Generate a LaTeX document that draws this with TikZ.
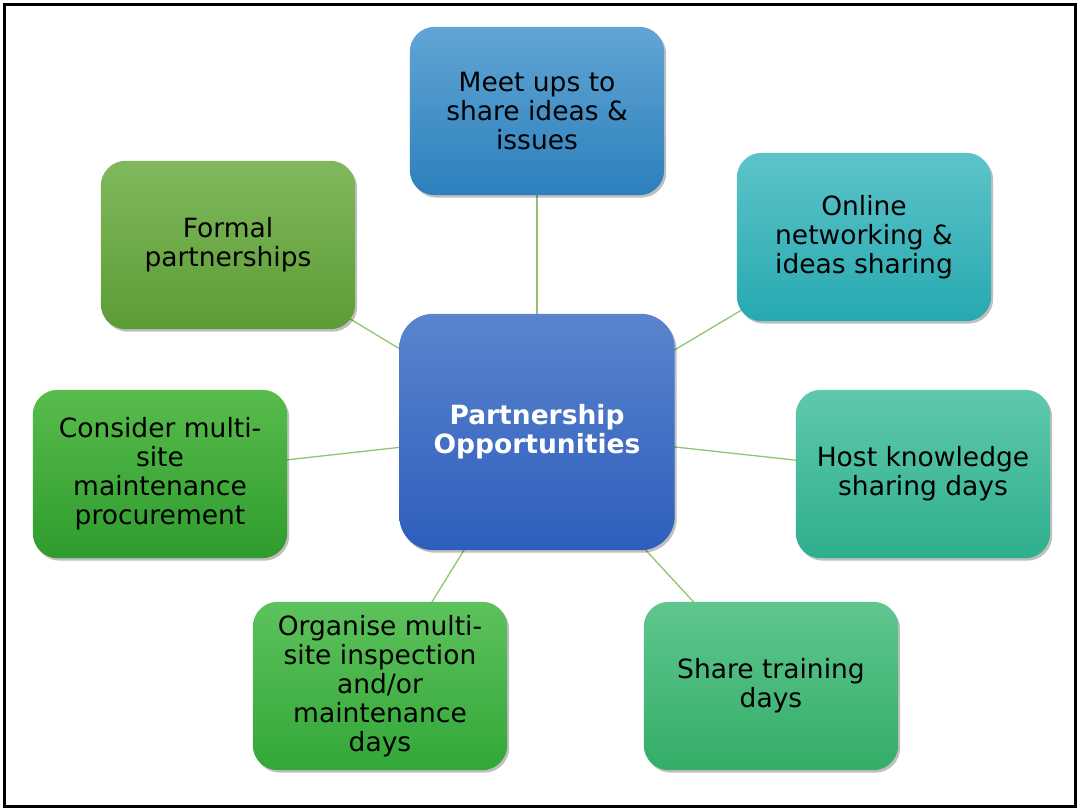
\documentclass[tikz,border=0pt]{standalone}
\usepackage{fontspec}
\setmainfont{DejaVu Sans}
\definecolor{linkgreen}{HTML}{90C471}
\definecolor{hubtop}{HTML}{5B84CD}      \definecolor{hubbot}{HTML}{2E5EBD}
\definecolor{meettop}{HTML}{61A5D5}     \definecolor{meetbot}{HTML}{2C80BC}
\definecolor{onlinetop}{HTML}{5CC4C9}   \definecolor{onlinebot}{HTML}{27A9B0}
\definecolor{hosttop}{HTML}{60C8AC}     \definecolor{hostbot}{HTML}{2DAF8E}
\definecolor{traintop}{HTML}{5FC68F}    \definecolor{trainbot}{HTML}{33AD68}
\definecolor{organisetop}{HTML}{5DC25C} \definecolor{organisebot}{HTML}{33A738}
\definecolor{considertop}{HTML}{58BC4C} \definecolor{considerbot}{HTML}{2E9C2D}
\definecolor{formaltop}{HTML}{80B95C}   \definecolor{formalbot}{HTML}{5C9C35}
\pgfdeclarelayer{links}
\pgfdeclarelayer{boxes}
\pgfsetlayers{links,boxes,main}

\begin{document}
\begin{tikzpicture}[x=1pt, y=-1pt,
    every node/.style={minimum width=254pt, minimum height=168pt,
      align=center, inner sep=0pt, font=\fontsize{26.5}{29}\selectfont},
    shade box/.style={top color=#1top, bottom color=#1bot},
    link/.style={draw=linkgreen, line width=1.3pt}]
        \useasboundingbox (0,0) rectangle (1079,810);
        \draw[line width=3pt] (4.5,4.5) rectangle (1075,806);

        % Hub
        \node (hub) [minimum width=275pt, minimum height=236pt,
          text=white, font=\fontsize{26.5}{29}\selectfont\bfseries]
          at (537,432) {Partnership\\Opportunities};

        % Surrounding ideas
        \node (meet) at (537,111) {Meet ups to\\share ideas \&\\issues};
        \node (online) at (864,237) {Online\\networking \&\\ideas sharing};
        \node (host) at (923,474) {Host knowledge\\sharing days};
        \node (train) at (771,686) {Share training\\days};
        \node (organise) at (380,686) {Organise multi-\\site inspection\\and/or\\maintenance\\days};
        \node (consider) at (160,474) {Consider multi-\\site\\maintenance\\procurement};
        \node (formal) at (228,245) {Formal\\partnerships};

        % Rounded shaded boxes with a soft shadow, under the texts
        \begin{pgfonlayer}{boxes}
          \foreach \n/\r in {hub/34, meet/25, online/25, host/25, train/25, organise/25, consider/25, formal/25} {
            \fill[black, opacity=0.25, rounded corners=\r pt, transform canvas={xshift=2pt, yshift=-2.5pt}]
              (\n.west) -- (\n.north west) -- (\n.north east) -- (\n.south east) -- (\n.south west) -- cycle;
            \shade[shade box=\n, rounded corners=\r pt]
              (\n.west) -- (\n.north west) -- (\n.north east) -- (\n.south east) -- (\n.south west) -- cycle;
          }
        \end{pgfonlayer}

        % Links from the hub, behind the boxes
        \begin{pgfonlayer}{links}
          \foreach \n in {meet, online, host, train, organise, consider, formal}
            \draw[link] (hub.center) -- (\n.center);
        \end{pgfonlayer}
\end{tikzpicture}
\end{document}
